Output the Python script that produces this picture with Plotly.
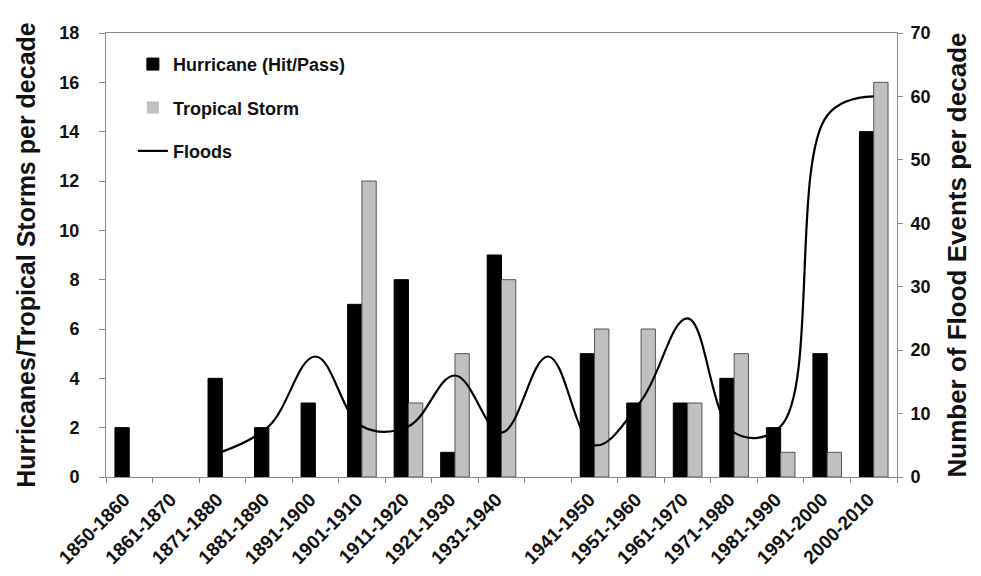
import plotly.graph_objects as go

# ---- data ----
decades = ["1850-1860", "1861-1870", "1871-1880", "1881-1890", "1891-1900",
           "1901-1910", "1911-1920", "1921-1930", "1931-1940", " ",
           "1941-1950", "1951-1960", "1961-1970", "1971-1980", "1981-1990",
           "1991-2000", "2000-2010"]
hurricanes = [2, 0, 4, 2, 3, 7, 8, 1, 9, None, 5, 3, 3, 4, 2, 5, 14]
tropical_storms = [0, 0, 0, 0, 0, 12, 3, 5, 8, None, 6, 6, 3, 5, 1, 1, 16]
floods = [None, None, 4, 8, 19, 8, 8, 16, 7, 19, 5, 12, 25, 7, 8, 57, 60]

left_ticks = [0, 2, 4, 6, 8, 10, 12, 14, 16, 18]
right_ticks = [0, 10, 20, 30, 40, 50, 60, 70]

FONT = "Liberation Sans, Arial, Helvetica, sans-serif"
TXT = "#111111"
AXC = "#8a8a8a"

# no outline on empty (zero) bars so nothing shows on the axis
h_lw = [1 if v else 0 for v in hurricanes]
t_lw = [1 if v else 0 for v in tropical_storms]

fig = go.Figure()
fig.add_trace(go.Bar(
    x=decades, y=hurricanes, name="Hurricane (Hit/Pass)",
    marker=dict(color="#000000", line=dict(color="#000000", width=h_lw)),
    legendgroup="h", yaxis="y"))
fig.add_trace(go.Bar(
    x=decades, y=tropical_storms, name="Tropical Storm",
    marker=dict(color="#c0c0c0", line=dict(color="#555555", width=t_lw)),
    legendgroup="t", yaxis="y"))
fig.add_trace(go.Scatter(
    x=decades, y=floods, name="Floods", mode="lines",
    line=dict(color="#000000", width=2.2, shape="spline", smoothing=1.1),
    connectgaps=False, legendgroup="f", yaxis="y2"))

fig.update_layout(
    width=973, height=568,
    margin=dict(l=98, r=84, t=25, b=99),
    paper_bgcolor="white", plot_bgcolor="white",
    font=dict(family=FONT, color=TXT, size=18),
    barmode="group", bargap=0.385, bargroupgap=0,
    showlegend=True,
    legend=dict(x=0.034, y=0.971, xanchor="left", yanchor="top",
                bgcolor="rgba(0,0,0,0)", borderwidth=0,
                font=dict(family=FONT, size=18, color=TXT, weight="bold"),
                tracegroupgap=17, traceorder="grouped"),
    xaxis=dict(
        type="category", categoryorder="array", categoryarray=decades,
        tickangle=-45, tickson="boundaries", ticks="outside", ticklen=5,
        tickcolor=AXC, showline=True, linecolor=AXC, linewidth=1,
        mirror=True, showgrid=False, zeroline=False, automargin=False,
        ticklabelstandoff=3, ticklabelshift=-5,
        tickfont=dict(family=FONT, size=19, color=TXT, weight="bold")),
    yaxis=dict(
        range=[0, 18], tickvals=left_ticks, ticks="outside", ticklen=6,
        tickcolor=AXC, showline=True, linecolor=AXC, linewidth=1,
        showgrid=False, zeroline=False, ticklabelstandoff=16,
        automargin=False,
        tickfont=dict(family=FONT, size=18, color=TXT, weight="bold"),
        title=dict(text="Hurricanes/Tropical Storms per decade", standoff=16,
                   font=dict(family=FONT, size=25, color=TXT, weight="bold"))),
    yaxis2=dict(
        range=[0, 70], tickvals=right_ticks, overlaying="y", side="right",
        ticks="outside", ticklen=5, tickcolor=AXC, showline=True,
        linecolor=AXC, linewidth=1, showgrid=False, zeroline=False,
        ticklabelstandoff=4, automargin=False,
        tickfont=dict(family=FONT, size=18, color=TXT, weight="bold"),
        title=dict(text="Number of Flood Events per decade", standoff=18,
                   font=dict(family=FONT, size=26, color=TXT, weight="bold"))),
)

fig.write_html("out.html")
